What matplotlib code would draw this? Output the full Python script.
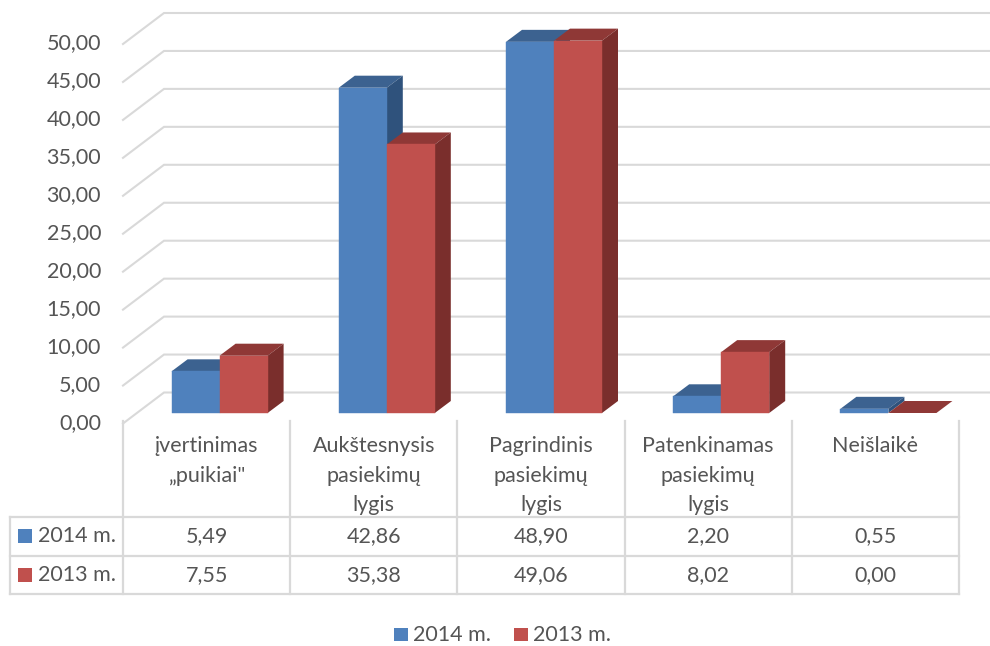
"""
Fake-3D column chart with a data table under it.
"""

import matplotlib
matplotlib.use('Agg')
import matplotlib.pyplot as plt
from matplotlib.patches import Rectangle

categories = ['įvertinimas\n„puikiai"', 'Aukštesnysis\npasiekimų\nlygis',
              'Pagrindinis\npasiekimų\nlygis', 'Patenkinamas\npasiekimų\nlygis',
              'Neišlaikė']
series_names = ['2014 m.', '2013 m.']
values_2014 = [5.49, 42.86, 48.90, 2.20, 0.55]
values_2013 = [7.55, 35.38, 49.06, 8.02, 0.00]
table_2014 = ['5,49', '42,86', '48,90', '2,20', '0,55']
table_2013 = ['7,55', '35,38', '49,06', '8,02', '0,00']
y_ticks = [0, 5, 10, 15, 20, 25, 30, 35, 40, 45, 50]
y_labels = ['0,00', '5,00', '10,00', '15,00', '20,00', '25,00',
            '30,00', '35,00', '40,00', '45,00', '50,00']

W, H = 990, 646
CAT_PX = 167.2    # width of one category in pixels
VAL_PX = 7.59     # pixels for one unit of value
X0, Y0 = 123, 413  # pixel position of x=0, value=0 (bar floor)

# depth offsets, converted from pixels to data units
bar_dx, bar_dy = 16 / CAT_PX, 12 / VAL_PX
wall_dx, wall_dy = 41 / CAT_PX, 31 / VAL_PX
floor_shift = 10.5 / VAL_PX
label_shift = 10 / VAL_PX
bar_w = 48 / CAT_PX
bar_start = 48.6 / CAT_PX

colors = {
    '2014 m.': ('#4f81bd', '#3c6290', '#2f527c'),
    '2013 m.': ('#c0504d', '#8f3836', '#7a2e2c'),
}
GRID = '#d9d9d9'
TEXT = '#555555'
FONT = 'Lato'
FS = 15.5

plt.rcParams['font.family'] = [FONT, 'DejaVu Sans']

fig = plt.figure(figsize=(W / 100, H / 100), dpi=100, facecolor='white')

# main axes, full figure, in data units
ax = fig.add_axes([0, 0, 1, 1])
ax.set_xlim(-X0 / CAT_PX, (W - X0) / CAT_PX)
ax.set_ylim((Y0 - H) / VAL_PX, Y0 / VAL_PX)
ax.axis('off')

# side wall + back wall gridlines
x_end = ax.get_xlim()[1]
for t, lab in zip(y_ticks, y_labels):
    y = t - floor_shift
    ax.plot([0, wall_dx, x_end], [y, y + wall_dy, y + wall_dy],
            color=GRID, lw=1.5, solid_joinstyle='miter', zorder=1)
    ax.text(-22 / CAT_PX, t - label_shift, lab, ha='right', va='center',
            fontsize=FS, color=TEXT)


def draw_bar(x, v, cols):
    front, top, side = cols
    ax.fill([x, x + bar_dx, x + bar_w + bar_dx, x + bar_w],
            [v, v + bar_dy, v + bar_dy, v], color=top, lw=0, zorder=3)
    if v > 0:
        ax.fill([x + bar_w, x + bar_w + bar_dx, x + bar_w + bar_dx, x + bar_w],
                [0, bar_dy, v + bar_dy, v], color=side, lw=0, zorder=3)
        ax.bar(x, v, width=bar_w, align='edge', color=front,
               edgecolor=front, lw=0.3, zorder=3)


for i in range(len(categories)):
    draw_bar(i + bar_start, values_2014[i], colors['2014 m.'])
    draw_bar(i + bar_start + bar_w, values_2013[i], colors['2013 m.'])

# table and legend, in pixel coordinates
tb = fig.add_axes([0, 0, 1, 1])
tb.set_xlim(0, W)
tb.set_ylim(H, 0)
tb.axis('off')
tb.patch.set_alpha(0)

edges = [X0 + CAT_PX * i for i in range(len(categories) + 1)]
t_top, t_mid, t_bot, t_left = 517, 556, 594, 10
for x in edges:
    tb.plot([x, x], [421, t_bot], color=GRID, lw=1.6)
tb.plot([t_left, t_left], [t_top, t_bot], color=GRID, lw=1.6)
for y in [t_top, t_mid, t_bot]:
    tb.plot([t_left, edges[-1]], [y, y], color=GRID, lw=1.6)

line_ys = [446, 476, 505]
for i, c in enumerate(categories):
    xc = (edges[i] + edges[i + 1]) / 2
    for part, y in zip(c.split('\n'), line_ys):
        tb.text(xc, y, part, ha='center', va='center', fontsize=FS, color=TEXT)
    tb.text(xc, 536, table_2014[i], ha='center', va='center', fontsize=FS, color=TEXT)
    tb.text(xc, 575, table_2013[i], ha='center', va='center', fontsize=FS, color=TEXT)

for name, y in zip(series_names, [536, 575]):
    tb.add_patch(Rectangle((18, y - 7), 14, 14, color=colors[name][0], lw=0))
    tb.text(38, y, name, ha='left', va='center', fontsize=FS, color=TEXT)

for name, x in zip(series_names, [394, 514]):
    tb.add_patch(Rectangle((x, 628), 14, 13, color=colors[name][0], lw=0))
    tb.text(x + 19, 635, name, ha='left', va='center', fontsize=FS, color=TEXT)

fig.savefig('out.png', dpi=100)
